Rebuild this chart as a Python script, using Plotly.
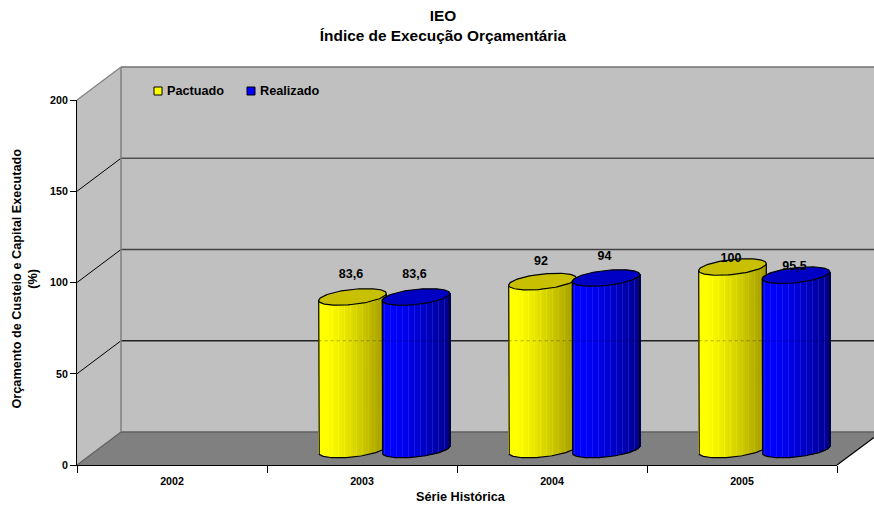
import numpy as np
import plotly.graph_objects as go

# ---- data ----
categories = ["2002", "2003", "2004", "2005"]
y_ticks = [0, 50, 100, 150, 200]
pactuado = [None, 83.6, 92, 100]
realizado = [None, 83.6, 94, 95.5]
label_pactuado = ["83,6", "92", "100"]
label_realizado = ["83,6", "94", "95,5"]
title_text = "IEO<br>Índice de Execução Orçamentária"
y_title = "Orçamento de Custeio e Capital Executado<br>(%)"
x_title = "Série Histórica"

# ---- geometry ----
W, H = 874, 508
L, R, T, B = 77, 837, 100, 465
PX_X = (R - L) / 4      # px per category
PX_Y = (B - T) / 200    # px per value unit
DX, DY = 44, 33         # wall depth
BASE = 8.5              # floor offset of cylinders in value units
OFF_Y, OFF_B = -0.05, 0.2842
A, E, TH = 34.0, 7.5, np.deg2rad(6.2)
FONT = "Liberation Sans"

def px(x): return (x - L) / (R - L)
def py(y): return (B - y) / (B - T)

t = np.linspace(0, 2 * np.pi, 121)
ex = A * np.cos(t) * np.cos(TH) - E * np.sin(t) * np.sin(TH)
ey = A * np.cos(t) * np.sin(TH) + E * np.sin(t) * np.cos(TH)
i_l, i_r = int(np.argmin(ex)), int(np.argmax(ex))
HALF = ex.max()
# lower arc goes from left extreme to right extreme
order = np.r_[i_l:len(t) - 1, 0:i_r + 1]
lo_x, lo_y = ex[order], ey[order]
def lower(u): return np.interp(u, lo_x, lo_y)
def tilt(u): return u * np.tan(TH)

strip = 1.0
U = np.arange(-HALF + strip / 2, HALF, strip)

def shade(rgb_start, rgb_end, streak):
    cols = []
    for k, u in enumerate(U):
        f = ((u + HALF) / (2 * HALF))
        f = max(0.0, (f - 0.12) / 0.88) ** 1.25
        c = np.array(rgb_start) * (1 - f) + np.array(rgb_end) * f
        if k % 6 == 2:
            c = np.minimum(c + np.array(streak), 255)
        cols.append("rgb(%d,%d,%d)" % tuple(c))
    return cols

def body(values, off, cols, name):
    xs, ys, bs, cs = [], [], [], []
    for i, v in enumerate(values):
        if v is None:
            continue
        for u, c in zip(U, cols):
            xs.append(i + off + u / PX_X)
            bs.append(BASE + lower(u) / PX_Y)
            ys.append(v + (tilt(u) - lower(u)) / PX_Y)
            cs.append(c)
    return go.Bar(x=xs, y=ys, base=bs, width=strip / PX_X, name=name, showlegend=False,
                  marker=dict(color=cs, line=dict(width=0)), hoverinfo="skip")

fig = go.Figure()
fig.add_trace(body(pactuado, OFF_Y, shade((255, 255, 0), (160, 152, 0), (10, 10, 0)), "Pactuado"))
fig.add_trace(body(realizado, OFF_B, shade((0, 0, 255), (0, 0, 140), (24, 24, 20)), "Realizado"))

OUT = dict(color="#000000", width=1.2)
def outline(values, off, clip_right, name):
    for i, v in enumerate(values):
        if v is None:
            continue
        xc = i + off
        if clip_right is None:
            ox = np.r_[-HALF, lo_x, HALF] / PX_X + xc
            oy = BASE + np.r_[0, lo_y, 0] / PX_Y
            oy[0] = BASE + v + tilt(-HALF) / PX_Y
            oy[-1] = BASE + v + tilt(HALF) / PX_Y
            fig.add_trace(go.Scatter(x=ox, y=oy, mode="lines", line=OUT, showlegend=False, hoverinfo="skip"))
        else:
            # the neighbouring cylinder hides the right part of the outline
            u_stop = (clip_right[0] - OFF_Y) * PX_X - HALF
            keep = lo_x <= u_stop
            ox = np.r_[-HALF, lo_x[keep]] / PX_X + xc
            oy = BASE + np.r_[0, lo_y[keep]] / PX_Y
            oy[0] = BASE + v + tilt(-HALF) / PX_Y
            fig.add_trace(go.Scatter(x=ox, y=oy, mode="lines", line=OUT, showlegend=False, hoverinfo="skip"))
            # right edge, visible only above the neighbour's top
            other = clip_right[1][i]
            top_r = BASE + v + tilt(HALF) / PX_Y
            u_o = HALF + (OFF_Y - clip_right[0]) * PX_X
            stop = BASE + other + float(np.interp(u_o, lo_x, lo_y)) / PX_Y
            if top_r > stop:
                fig.add_trace(go.Scatter(x=[xc + HALF / PX_X] * 2, y=[top_r, stop], mode="lines",
                                         line=OUT, showlegend=False, hoverinfo="skip"))

def caps(values, off, color):
    for i, v in enumerate(values):
        if v is None:
            continue
        fig.add_trace(go.Scatter(x=i + off + ex / PX_X, y=BASE + v + ey / PX_Y, mode="lines",
                                 fill="toself", fillcolor=color, line=OUT,
                                 showlegend=False, hoverinfo="skip"))

outline(pactuado, OFF_Y, (OFF_B, realizado), "Pactuado")
caps(pactuado, OFF_Y, "#C8C000")
outline(realizado, OFF_B, None, "Realizado")
caps(realizado, OFF_B, "#0000C4")

# value labels
lab_x, lab_y, lab_t = [], [], []
lab_gap = {("p", 1): 20.4, ("p", 2): 19.1, ("p", 3): 12.7, ("r", 1): 20.4, ("r", 2): 20.2, ("r", 3): 12.9}
LAB_SHIFT = -1.5 / PX_X
for key, values, off, texts in (("p", pactuado, OFF_Y, label_pactuado), ("r", realizado, OFF_B, label_realizado)):
    n = 0
    for i, v in enumerate(values):
        if v is None:
            continue
        lab_x.append(i + off + LAB_SHIFT)
        lab_y.append(v + lab_gap[(key, i)])
        lab_t.append(texts[n])
        n += 1
fig.add_trace(go.Scatter(x=lab_x, y=lab_y, text=lab_t, mode="text", textposition="middle center",
                         textfont=dict(family=FONT, size=12.5, color="#000000", weight=700),
                         showlegend=False, hoverinfo="skip"))

# ---- walls (behind the marks) ----
def poly(points, fill):
    d = "M " + " L ".join("%.5f,%.5f" % (px(x), py(y)) for x, y in points) + " Z"
    return dict(type="path", path=d, xref="paper", yref="paper", fillcolor=fill, line=dict(width=0), layer="below")

def seg(x0, y0, x1, y1, color, width=1, layer="below", dash="solid"):
    return dict(type="line", xref="paper", yref="paper", x0=px(x0), y0=py(y0), x1=px(x1), y1=py(y1),
                line=dict(color=color, width=width, dash=dash), layer=layer)

BX, TOPB, FLOOR = L + DX, T - DY, B - DY
shapes = [
    poly([(BX, TOPB), (W, TOPB), (W, FLOOR), (BX, FLOOR)], "#C0C0C0"),
    poly([(L, B), (BX, FLOOR), (BX, TOPB), (L, T)], "#C0C0C0"),
    poly([(L, B), (BX, FLOOR), (W, FLOOR), (W, B - 27.5), (R, B)], "#808080"),
]
for v in y_ticks[1:-1]:
    yy = B - v * PX_Y
    col = {50: "#202020", 100: "#404040", 150: "#505050"}[v]
    shapes.append(seg(L, yy, BX, yy - DY, "#000000", 1))
    shapes.append(seg(BX, yy - DY, W, yy - DY, col, 1.3))
shapes += [
    seg(BX, TOPB, W, TOPB, "#707070", 1.5),
    seg(BX, FLOOR, W, FLOOR, "#606060", 1.5),
    seg(BX, TOPB, BX, FLOOR, "#808080", 1.5),
    seg(L, T, BX, TOPB, "#808080", 1.2),
    seg(L, B, BX, FLOOR, "#606060", 1.2),
    seg(R, B, W, B - 27.5, "#000000", 1.2),
]
# back-wall line faintly visible through the cylinders
for i in (1, 2, 3):
    for off in (OFF_Y, OFF_B):
        xc = L + (i + 0.5 + off) * PX_X
        shapes.append(seg(xc - HALF, B - 50 * PX_Y - DY, xc + HALF, B - 50 * PX_Y - DY,
                          "rgba(0,0,0,0.3)", 1, layer="above", dash="dot"))

# legend built in place
SW = 8
for x0, col in ((154, "#FFFF00"), (247, "#0000FF")):
    shapes.append(dict(type="rect", xref="paper", yref="paper", x0=px(x0), x1=px(x0 + SW),
                       y0=py(95), y1=py(87), fillcolor=col, line=dict(color="#000000", width=1), layer="above"))

def note(text, x, y, size=10.67, angle=0, xa="center", ya="middle"):
    return dict(text=text, xref="paper", yref="paper", x=px(x), y=py(y), showarrow=False, textangle=angle,
                xanchor=xa, yanchor=ya, font=dict(family=FONT, size=size, color="#000000", weight=700))

annotations = [
    note("Pactuado", 164.5, 91, 12.7, xa="left"),
    note("Realizado", 257.5, 91, 12.7, xa="left"),
    note(y_title, 24.5, 279, 12.7, angle=-90),
    note(x_title, 461, 497, 12.7),
]

fig.update_layout(
    width=W, height=H,
    margin=dict(l=L, r=W - R, t=T, b=H - B, autoexpand=False),
    paper_bgcolor="#FFFFFF", plot_bgcolor="rgba(0,0,0,0)",
    barmode="overlay", bargap=0, showlegend=False,
    title=dict(text=title_text, x=443 / W, xanchor="center", y=1 - 21 / H, yanchor="top",
               font=dict(family=FONT, size=15.4, color="#000000", weight=700)),
    xaxis=dict(range=[-0.5, 3.5], tickmode="array", tickvals=list(range(4)), ticktext=categories,
               ticks="", showgrid=False, zeroline=False, showline=True, linecolor="#000000", linewidth=1,
               ticklabelstandoff=6,
               tickfont=dict(family=FONT, size=10.67, color="#000000", weight=700),
               minor=dict(tickmode="array", tickvals=[-0.5, 0.5, 1.5, 2.5, 3.5], ticks="outside",
                          ticklen=7, tickcolor="#000000", tickwidth=1, showgrid=False)),
    yaxis=dict(range=[0, 200], tickmode="array", tickvals=y_ticks, ticks="outside", ticklen=6,
               tickcolor="#000000", tickwidth=1, showgrid=False, zeroline=False, showline=True,
               linecolor="#000000", linewidth=1,
               tickfont=dict(family=FONT, size=10.67, color="#000000", weight=700)),
    shapes=shapes, annotations=annotations,
)
fig.write_html("out.html", config=dict(displayModeBar=False),
               post_script="document.body.style.margin='0';document.documentElement.style.overflow='hidden';")
